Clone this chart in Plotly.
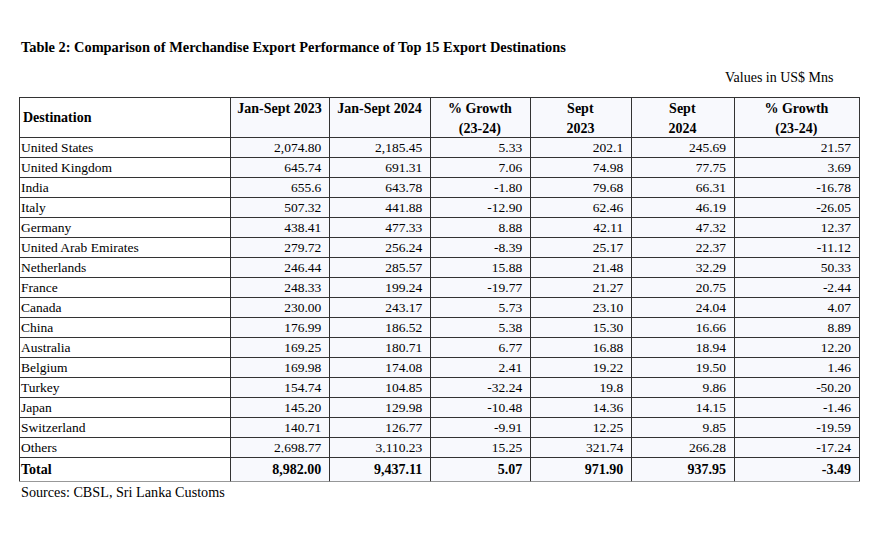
import plotly.graph_objects as go

destinations = ["United States", "United Kingdom", "India", "Italy", "Germany",
                "United Arab Emirates", "Netherlands", "France", "Canada", "China",
                "Australia", "Belgium", "Turkey", "Japan", "Switzerland", "Others"]
jan_sep_2023 = ["2,074.80", "645.74", "655.6", "507.32", "438.41", "279.72", "246.44",
                "248.33", "230.00", "176.99", "169.25", "169.98", "154.74", "145.20",
                "140.71", "2,698.77"]
jan_sep_2024 = ["2,185.45", "691.31", "643.78", "441.88", "477.33", "256.24", "285.57",
                "199.24", "243.17", "186.52", "180.71", "174.08", "104.85", "129.98",
                "126.77", "3,110.23"]
growth_ytd = ["5.33", "7.06", "-1.80", "-12.90", "8.88", "-8.39", "15.88", "-19.77",
              "5.73", "5.38", "6.77", "2.41", "-32.24", "-10.48", "-9.91", "15.25"]
sep_2023 = ["202.1", "74.98", "79.68", "62.46", "42.11", "25.17", "21.48", "21.27",
            "23.10", "15.30", "16.88", "19.22", "19.8", "14.36", "12.25", "321.74"]
sep_2024 = ["245.69", "77.75", "66.31", "46.19", "47.32", "22.37", "32.29", "20.75",
            "24.04", "16.66", "18.94", "19.50", "9.86", "14.15", "9.85", "266.28"]
growth_sep = ["21.57", "3.69", "-16.78", "-26.05", "12.37", "-11.12", "50.33", "-2.44",
              "4.07", "8.89", "12.20", "1.46", "-50.20", "-1.46", "-19.59", "-17.24"]
total_row = ["Total", "8,982.00", "9,437.11", "5.07", "971.90", "937.95", "-3.49"]
header_line1 = ["", "Jan-Sept 2023", "Jan-Sept 2024", "% Growth", "Sept", "Sept", "% Growth"]
header_line2 = ["", "", "", "(23-24)", "2023", "2024", "(23-24)"]

W, H = 885, 540
FONT = "Liberation Serif, Times New Roman, serif"
FS = 13.5
FS_HEAD = 14
LINE = "#333333"
CLEAR = "rgba(0,0,0,0)"
fills = ["#ffffff"] + ["#f8f9fd"] * 6

# column borders (px) of the drawn grid
borders = [19, 230, 329, 430, 530, 631, 734, 859]
grid_w = [b - a for a, b in zip(borders[:-1], borders[1:])]
# text columns: shifted so padding matches the reference
text_edges = [13] + [b + 0.5 for b in borders[1:]]
text_w = [b - a for a, b in zip(text_edges[:-1], text_edges[1:])]

TOP, HEAD_H, ROW_H, TOT_H = 97.5, 40, 20, 24
n = len(destinations)
body_bot = TOP + HEAD_H + ROW_H * n
CELL_OFF = 14    # text centre below cell top (plotly table cells)
HEAD_OFF = 15.5  # text centre below header top (plotly table header)


def py(y):
    return 1 - y / H


def xdom(edges):
    return [edges[0] / W, edges[-1] / W]


def nb(s):
    return s.replace(" ", "\u00a0")


blank_head = dict(values=[""] * 7, height=ROW_H, fill_color=CLEAR, line=dict(width=0))
txt_font = dict(family=FONT, size=FS, color="black")
head_font = dict(family=FONT, size=FS_HEAD, color="black")

fig = go.Figure()
# grid + fills (header and body)
fig.add_trace(go.Table(
    domain=dict(x=xdom(borders), y=[py(body_bot + 0.5), py(TOP)]),
    columnwidth=grid_w,
    header=dict(values=[""] * 7, height=HEAD_H, fill_color=fills,
                line=dict(color=LINE, width=1)),
    cells=dict(values=[[""] * n] * 7, height=ROW_H, fill_color=fills,
               line=dict(color=LINE, width=1)),
))
# grid + fills (total row)
fig.add_trace(go.Table(
    domain=dict(x=xdom(borders), y=[py(body_bot + TOT_H + 0.5), py(body_bot)]),
    columnwidth=grid_w,
    header=dict(values=[""] * 7, height=TOT_H, fill_color=fills,
                line=dict(color=LINE, width=1)),
    cells=dict(values=[[] for _ in range(7)]),
))
# header text, one table per line
for line_vals, centre in ((header_line1, TOP + 9.5), (header_line2, TOP + 29.5)):
    y0 = centre - CELL_OFF - ROW_H
    fig.add_trace(go.Table(
        domain=dict(x=xdom(borders), y=[py(y0 + 2 * ROW_H + 4), py(y0)]),
        columnwidth=grid_w,
        header=blank_head,
        cells=dict(values=[[f"<b>{nb(v)}</b>" if v else ""] for v in line_vals],
                   height=ROW_H, align="center", fill_color=CLEAR,
                   line=dict(width=0), font=head_font),
    ))
# body text
yb = TOP + HEAD_H + ROW_H / 2 - CELL_OFF - ROW_H
fig.add_trace(go.Table(
    domain=dict(x=xdom(text_edges), y=[py(yb + ROW_H * (n + 1)), py(yb)]),
    columnwidth=text_w,
    header=blank_head,
    cells=dict(values=[destinations, jan_sep_2023, jan_sep_2024, growth_ytd,
                       sep_2023, sep_2024, growth_sep],
               height=ROW_H, align=["left"] + ["right"] * 6, fill_color=CLEAR,
               line=dict(width=0), font=txt_font),
))
# total row text
yt = body_bot + TOT_H / 2 - HEAD_OFF
fig.add_trace(go.Table(
    domain=dict(x=xdom(text_edges), y=[py(yt + TOT_H), py(yt)]),
    columnwidth=text_w,
    header=dict(values=[f"<b>{v}</b>" for v in total_row], height=TOT_H,
                align=["left"] + ["right"] * 6, fill_color=CLEAR,
                line=dict(width=0), font=head_font),
    cells=dict(values=[[] for _ in range(7)]),
))

fig.update_layout(
    width=W, height=H, margin=dict(l=0, r=0, t=0, b=0),
    paper_bgcolor="white", plot_bgcolor="white",
    font=dict(family=FONT, size=FS, color="black"),
    annotations=[
        dict(text="<b>Table 2: Comparison of Merchandise Export Performance of Top 15 Export Destinations</b>",
             x=19 / W, y=py(47), xref="paper", yref="paper", xanchor="left",
             yanchor="middle", showarrow=False, font=dict(size=14.4)),
        dict(text="Values in US$ Mns", x=836 / W, y=py(77), xref="paper",
             yref="paper", xanchor="right", yanchor="middle", showarrow=False,
             font=dict(size=14)),
        dict(text="<b>Destination</b>", x=21 / W, y=py(117.5), xref="paper",
             yref="paper", xanchor="left", yanchor="middle", showarrow=False,
             font=dict(size=FS_HEAD)),
        dict(text="Sources: CBSL, Sri Lanka Customs", x=19 / W, y=py(492),
             xref="paper", yref="paper", xanchor="left", yanchor="middle",
             showarrow=False, font=dict(size=14.2)),
    ],
)
fig.write_html("out.html", config={"displayModeBar": False},
               post_script="document.body.style.margin='0px';")
